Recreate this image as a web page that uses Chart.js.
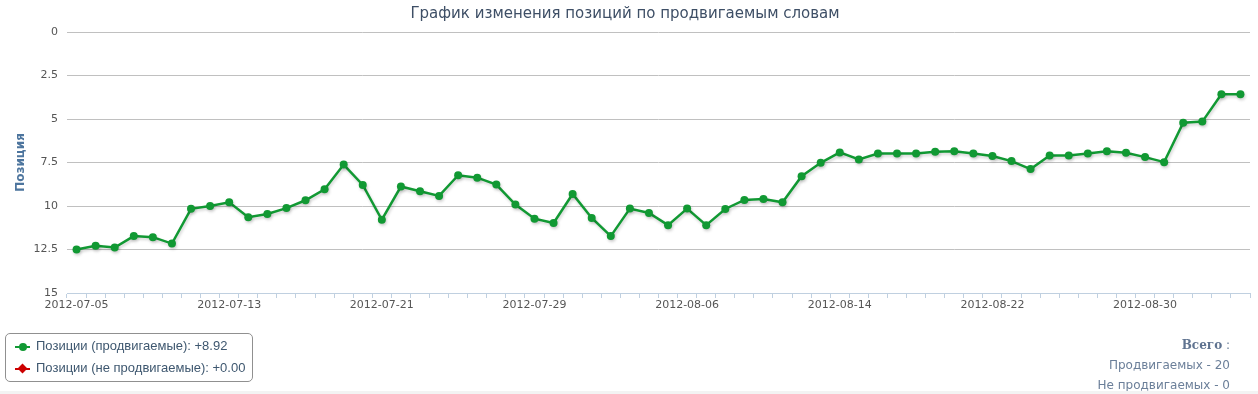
<!DOCTYPE html>
<html>
<head>
<meta charset="utf-8">
<script src="https://cdn.jsdelivr.net/npm/chart.js@4"></script>
<style>
  body { margin: 0; background: #fff; }
  #wrap { position: relative; width: 1258px; height: 394px; overflow: hidden; }
  #legend {
    position: absolute; left: 5px; top: 333px; width: 246px; height: 47px;
    border: 1px solid #909090; border-radius: 5px;
    font: 13px "Liberation Sans", Arial, sans-serif; color: #3e576f;
  }
  .item { position: absolute; left: 30px; white-space: nowrap; }
  .sym { position: absolute; left: 9px; width: 15px; height: 2px; }
  .dot { position: absolute; width: 8px; height: 8px; left: 4px; top: -3px; border-radius: 50%; }
  .dia { position: absolute; width: 7px; height: 7px; left: 4px; top: -3px; transform: rotate(45deg); }
  #totals {
    position: absolute; right: 28px; top: 335px; text-align: right;
    font: 12px "DejaVu Sans", Verdana, sans-serif; color: #6b7f99; line-height: 20px;
  }
  #totals b { font-family: "DejaVu Serif", serif; color: #5f7390; }
  #strip { position: absolute; left: 0; right: 0; bottom: 0; height: 3px; background: #f3f3f3; }
</style>
</head>
<body>
<div id="wrap">
  <canvas id="chart" width="1258" height="394"></canvas>
  <div id="legend">
    <div class="sym" style="top:12px;background:#119933"><div class="dot" style="background:#119933"></div></div>
    <div class="item" style="top:4px">Позиции (продвигаемые): +8.92</div>
    <div class="sym" style="top:34px;background:#cc0000"><div class="dia" style="background:#cc0000"></div></div>
    <div class="item" style="top:26px">Позиции (не продвигаемые): +0.00</div>
  </div>
  <div id="totals"><b>Всего</b> :<br>Продвигаемых - 20<br>Не продвигаемых - 0</div>
  <div id="strip"></div>
</div>
<script>
// dates 2012-07-05 .. 2012-09-04
const dates = [
  '2012-07-05','2012-07-06','2012-07-07','2012-07-08','2012-07-09','2012-07-10','2012-07-11','2012-07-12',
  '2012-07-13','2012-07-14','2012-07-15','2012-07-16','2012-07-17','2012-07-18','2012-07-19','2012-07-20',
  '2012-07-21','2012-07-22','2012-07-23','2012-07-24','2012-07-25','2012-07-26','2012-07-27','2012-07-28',
  '2012-07-29','2012-07-30','2012-07-31','2012-08-01','2012-08-02','2012-08-03','2012-08-04','2012-08-05',
  '2012-08-06','2012-08-07','2012-08-08','2012-08-09','2012-08-10','2012-08-11','2012-08-12','2012-08-13',
  '2012-08-14','2012-08-15','2012-08-16','2012-08-17','2012-08-18','2012-08-19','2012-08-20','2012-08-21',
  '2012-08-22','2012-08-23','2012-08-24','2012-08-25','2012-08-26','2012-08-27','2012-08-28','2012-08-29',
  '2012-08-30','2012-08-31','2012-09-01','2012-09-02','2012-09-03','2012-09-04'
];

const promoted = [
  12.5, 12.29, 12.39, 11.73, 11.79, 12.16, 10.16, 10.0,
  9.79, 10.64, 10.46, 10.12, 9.67, 9.04, 7.62, 8.79,
  10.79, 8.88, 9.15, 9.42, 8.23, 8.37, 8.77, 9.92,
  10.73, 10.98, 9.31, 10.69, 11.73, 10.15, 10.4, 11.1,
  10.15, 11.1, 10.17, 9.65, 9.6, 9.79, 8.29, 7.52,
  6.92, 7.33, 6.98, 6.98, 6.98, 6.88, 6.85, 6.98,
  7.13, 7.42, 7.88, 7.1, 7.1, 6.98, 6.85, 6.94,
  7.19, 7.48, 5.21, 5.15, 3.58, 3.58
];
const notPromoted = [];

const yTicks = [0, 2.5, 5, 7.5, 10, 12.5, 15];
const labelEvery = 8;

const shadowPlugin = {
  id: 'shadow',
  beforeDatasetDraw(chart) {
    const ctx = chart.ctx;
    ctx.save();
    ctx.shadowColor = 'rgba(0,0,0,0.18)';
    ctx.shadowBlur = 3;
    ctx.shadowOffsetX = 1;
    ctx.shadowOffsetY = 2;
  },
  afterDatasetDraw(chart) {
    chart.ctx.restore();
  }
};

new Chart(document.getElementById('chart'), {
  type: 'line',
  data: {
    labels: dates,
    datasets: [
      {
        label: 'Позиции (продвигаемые)',
        data: promoted,
        borderColor: '#119933',
        backgroundColor: '#119933',
        borderWidth: 2.5,
        pointRadius: 4,
        pointBorderWidth: 0,
        tension: 0
      },
      {
        label: 'Позиции (не продвигаемые)',
        data: notPromoted,
        borderColor: '#cc0000',
        backgroundColor: '#cc0000',
        pointStyle: 'rectRot',
        borderWidth: 2
      }
    ]
  },
  plugins: [shadowPlugin],
  options: {
    responsive: false,
    animation: false,
    layout: { padding: { left: 0, right: 8, top: 0, bottom: 80 } },
    plugins: {
      legend: { display: false },
      tooltip: { enabled: false },
      title: {
        display: true,
        text: 'График изменения позиций по продвигаемым словам',
        color: '#3e4f66',
        font: { family: '"DejaVu Sans", Verdana, sans-serif', size: 15, weight: 'normal' },
        padding: { top: 5, bottom: 9 }
      }
    },
    scales: {
      x: {
        offset: true,
        grid: { offset: true, drawOnChartArea: false, color: '#c0d0e0', tickLength: 5 },
        border: { color: '#c0d0e0' },
        ticks: {
          autoSkip: false,
          maxRotation: 0,
          padding: 1,
          color: '#555',
          font: { family: '"DejaVu Sans", Verdana, sans-serif', size: 11 },
          callback: (v, i) => i % labelEvery === 0 ? dates[i] : ''
        },
        afterFit: s => { s.height = 21; }
      },
      y: {
        reverse: true,
        min: 0,
        max: 15,
        afterBuildTicks: s => { s.ticks = yTicks.map(v => ({ value: v })); },
        grid: { color: '#c0c0c0', drawTicks: false },
        border: { display: false },
        ticks: {
          padding: 9,
          color: '#555',
          font: { family: '"DejaVu Sans", Verdana, sans-serif', size: 11 },
          callback: v => String(v)
        },
        title: {
          display: true,
          text: 'Позиция',
          color: '#4d759e',
          font: { family: '"DejaVu Sans", Verdana, sans-serif', size: 12, weight: 'bold' },
          padding: { top: 14, bottom: 0 }
        },
        afterFit: s => { s.width = 67; }
      }
    }
  }
});
</script>
</body>
</html>
